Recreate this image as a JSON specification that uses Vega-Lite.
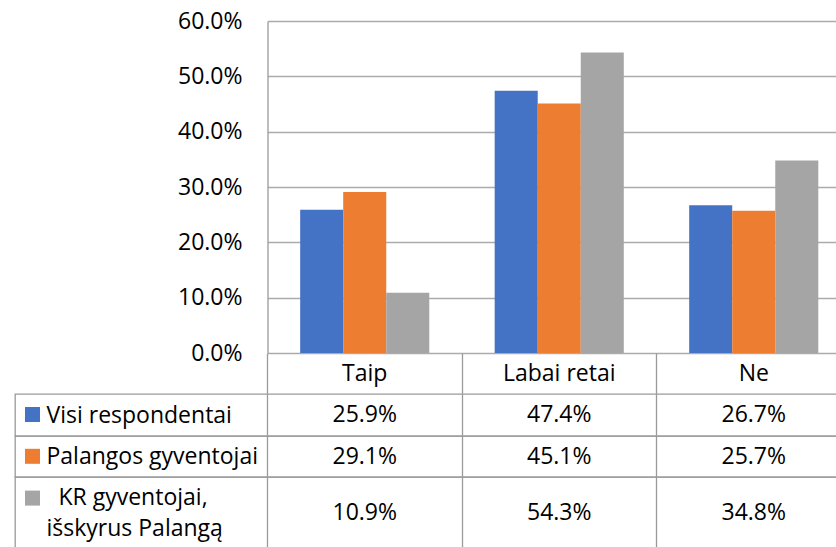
{
  "$schema": "https://vega.github.io/schema/vega-lite/v6.json",
  "padding": {"left": 14, "top": 10, "right": 0, "bottom": 0},
  "autosize": {"type": "pad"},
  "spacing": 0,
  "bounds": "flush",
  "config": {
    "font": "Open Sans",
    "text": {"font": "Open Sans", "fontSize": 23, "color": "#000000"},
    "axis": {"labelFont": "Open Sans", "labelFontSize": 23, "labelColor": "#000000", "title": null},
    "concat": {"spacing": 0}
  },
  "datasets": {
    "d": [
      {"category": "Taip", "series": "Visi respondentai", "value": 0.259},
      {"category": "Taip", "series": "Palangos gyventojai", "value": 0.291},
      {"category": "Taip", "series": "KR gyventojai, išskyrus Palangą", "value": 0.109},
      {"category": "Labai retai", "series": "Visi respondentai", "value": 0.474},
      {"category": "Labai retai", "series": "Palangos gyventojai", "value": 0.451},
      {"category": "Labai retai", "series": "KR gyventojai, išskyrus Palangą", "value": 0.543},
      {"category": "Ne", "series": "Visi respondentai", "value": 0.267},
      {"category": "Ne", "series": "Palangos gyventojai", "value": 0.257},
      {"category": "Ne", "series": "KR gyventojai, išskyrus Palangą", "value": 0.348}
    ]
  },
  "vconcat": [
    {
      "width": 836,
      "height": 332,
      "data": {"name": "d"},
      "mark": {"type": "bar"},
      "encoding": {
        "x": {"field": "category", "type": "nominal", "sort": ["Taip", "Labai retai", "Ne"],
              "scale": {"paddingInner": 0, "paddingOuter": 0.649, "align": 1}, "axis": null},
        "xOffset": {"field": "series", "type": "nominal",
                    "sort": ["Visi respondentai", "Palangos gyventojai", "KR gyventojai, išskyrus Palangą"],
                    "scale": {"paddingInner": 0, "paddingOuter": 0.76}},
        "y": {"field": "value", "type": "quantitative",
              "scale": {"domain": [0, 0.6], "nice": false},
              "axis": {"values": [0, 0.1, 0.2, 0.3, 0.4, 0.5, 0.6], "format": ".1%", "grid": false,
                       "offset": -252.5, "tickSize": -583.5, "tickColor": "#ababab", "tickWidth": 1.3,
                       "domainColor": "#9a9a9a", "domainWidth": 1.3, "labelPadding": 609, "labelAlign": "right"}},
        "color": {"field": "series", "type": "nominal",
                  "sort": ["Visi respondentai", "Palangos gyventojai", "KR gyventojai, išskyrus Palangą"],
                  "scale": {"range": ["#4472C4", "#ED7D31", "#A5A5A5"]},
                  "legend": {"orient": "none", "legendX": 10, "legendY": 386, "title": null,
                             "symbolType": "square", "symbolSize": 225, "symbolStrokeWidth": 0,
                             "labelExpr": "''", "labelFontSize": 10, "labelOffset": 0,
                             "rowPadding": 26.8, "padding": 0, "symbolOffset": 0}}
      },
      "view": {"stroke": null}
    },
    {
      "width": 836,
      "height": 41,
      "data": {"name": "d"},
      "transform": [{"filter": "datum.series === 'Visi respondentai'"}],
      "mark": {"type": "text"},
      "encoding": {
        "x": {"field": "category", "type": "nominal", "sort": ["Taip", "Labai retai", "Ne"],
              "scale": {"paddingInner": 0, "paddingOuter": 0.649, "align": 1},
              "axis": {"grid": true, "tickBand": "extent", "gridColor": "#9a9a9a", "gridWidth": 1.3,
                       "domain": false, "ticks": false, "labels": false}},
        "text": {"field": "category"}
      },
      "view": {"stroke": null}
    },
    {
      "width": 836,
      "height": 42,
      "data": {"name": "d"},
      "transform": [{"filter": "datum.series === 'Visi respondentai'"}],
      "mark": {"type": "text"},
      "encoding": {
        "x": {"field": "category", "type": "nominal", "sort": ["Taip", "Labai retai", "Ne"],
              "scale": {"paddingInner": 0, "paddingOuter": 0.649, "align": 1},
              "axis": {"grid": true, "tickBand": "extent", "gridColor": "#9a9a9a", "gridWidth": 1.3,
                       "domain": false, "ticks": false, "labels": false}},
        "y": {"field": "series", "type": "nominal",
              "axis": {"domain": false, "ticks": false, "labelAlign": "left", "labelPadding": -31, "labelLimit": 0}},
        "text": {"field": "value", "type": "quantitative", "format": ".1%"}
      },
      "view": {"stroke": "#9a9a9a", "strokeWidth": 1.3}
    },
    {
      "width": 836,
      "height": 41,
      "data": {"name": "d"},
      "transform": [{"filter": "datum.series === 'Palangos gyventojai'"}],
      "mark": {"type": "text"},
      "encoding": {
        "x": {"field": "category", "type": "nominal", "sort": ["Taip", "Labai retai", "Ne"],
              "scale": {"paddingInner": 0, "paddingOuter": 0.649, "align": 1},
              "axis": {"grid": true, "tickBand": "extent", "gridColor": "#9a9a9a", "gridWidth": 1.3,
                       "domain": false, "ticks": false, "labels": false}},
        "y": {"field": "series", "type": "nominal",
              "axis": {"domain": false, "ticks": false, "labelAlign": "left", "labelPadding": -31, "labelLimit": 0}},
        "text": {"field": "value", "type": "quantitative", "format": ".1%"}
      },
      "view": {"stroke": "#9a9a9a", "strokeWidth": 1.3}
    },
    {
      "width": 836,
      "height": 72,
      "data": {"name": "d"},
      "transform": [{"filter": "datum.series === 'KR gyventojai, išskyrus Palangą'"}],
      "mark": {"type": "text"},
      "encoding": {
        "x": {"field": "category", "type": "nominal", "sort": ["Taip", "Labai retai", "Ne"],
              "scale": {"paddingInner": 0, "paddingOuter": 0.649, "align": 1},
              "axis": {"grid": true, "tickBand": "extent", "gridColor": "#9a9a9a", "gridWidth": 1.3,
                       "domain": false, "ticks": false, "labels": false}},
        "y": {"field": "series", "type": "nominal",
              "axis": {"domain": false, "ticks": false, "labelAlign": "left", "labelPadding": -31, "labelLimit": 0,
                       "labelLineHeight": 31, "labelOffset": -15.5,
                       "labelExpr": "['\u200b\u00a0\u00a0KR gyventojai,', 'išskyrus Palangą']"}},
        "text": {"field": "value", "type": "quantitative", "format": ".1%"}
      },
      "view": {"stroke": "#9a9a9a", "strokeWidth": 1.3}
    }
  ]
}
